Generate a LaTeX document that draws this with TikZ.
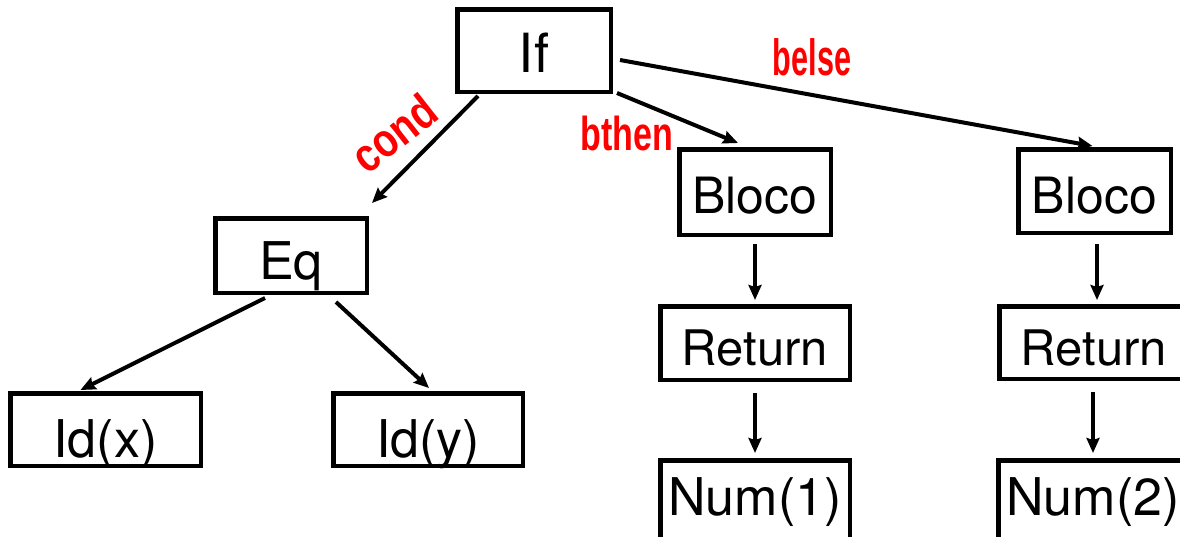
\documentclass[tikz,border=0pt]{standalone}
\usepackage{fontspec}
\setmainfont{TeX Gyre Heros}
\newfontfamily\handfont{Liberation Sans}
\usetikzlibrary{arrows.meta,calc}
\tikzset{
  box/.style={draw, line width=4.5pt, inner sep=0pt, anchor=base, font=\fontsize{50}{50}\selectfont},
  arr/.style={line width=4pt, -{Stealth[length=15pt,width=13pt,inset=2pt]}},
  lbl/.style={text=red, font=\handfont\bfseries\fontsize{34}{34}\selectfont, inner sep=0pt},
}
\begin{document}
\begin{tikzpicture}[x=1pt,y=-1pt]
\path[use as bounding box, clip] (0,0) rectangle (1180,536);
\fill[white] (0,0) rectangle (1180,536);
% nodes
\node[box, minimum width=153.5pt, text height=62.75pt, text depth=19.75pt, font=\fontsize{54}{54}\selectfont] (if) at (534,72) {If};
\node[box, minimum width=151.5pt, text height=60.75pt, text depth=13.75pt, font=\fontsize{52}{52}\selectfont] (eq) at (291,279) {Eq};
\node[box, minimum width=190.5pt, text height=63.75pt, text depth=8.75pt, font=\fontsize{52}{52}\selectfont] (idx) at (105.5,457) {Id(x)};
\node[box, minimum width=189.5pt, text height=63.75pt, text depth=8.75pt, font=\fontsize{52}{52}\selectfont] (idy) at (428,457) {Id(y)};
\node[box, minimum width=151.5pt, text height=63.75pt, text depth=21.75pt] (b1) at (755,213) {Bloco};
\node[box, minimum width=152.5pt, text height=63.75pt, text depth=19.75pt] (b2) at (1094.5,213) {Bloco};
\node[box, minimum width=189.5pt, text height=58.75pt, text depth=14.75pt, font=\fontsize{49}{49}\selectfont] (r1) at (755,365) {Return};
\node[box, minimum width=189.5pt, text height=58.75pt, text depth=13.75pt, font=\fontsize{49}{49}\selectfont] (r2) at (1094,365) {Return};
\node[box, minimum width=189.5pt, text height=54.75pt, text depth=40pt, font=\fontsize{52}{52}\selectfont] (n1) at (755,515) {Num(1)};
\node[box, minimum width=189.5pt, text height=54.75pt, text depth=40pt, font=\fontsize{52}{52}\selectfont] (n2) at (1093,515) {Num(2)};
% connectors
\draw[arr] ($(if.south west)+(23,2)$) -- ($(eq.north east)+(3,-13)$);
\draw[arr] ($(if.south east)+(4,-1)$) -- ($(b1.north)+(-17,-4)$);
\draw[arr] ($(if.east)+(7,9.5)$) -- ($(b2.north)+(-2,-1)$);
\draw[arr] ($(eq.south)+(-26,3)$) -- ($(idx.north)+(-25,-1)$);
\draw[arr] ($(eq.south)+(45,7)$) -- ($(idy.north)+(1,-3)$);
\draw[arr] ($(b1.south)+(0,7)$) -- ($(r1.north)+(0,-4)$);
\draw[arr] ($(r1.south)+(0,11)$) -- ($(n1.north)+(0,-5)$);
\draw[arr] ($(b2.south)+(2.5,9)$) -- ($(r2.north)+(3,-4)$);
\draw[arr] ($(r2.south)+(-1,11)$) -- ($(n2.north)+(0,-5)$);
% handwritten labels
\node[lbl, rotate=38] (lcond) at (394,133) {\scalebox{1.15}[1.4]{cond}};
\node[lbl] (lthen) at (627,133) {\scalebox{1.0}[1.4]{bthen}};
\node[lbl] (lelse) at (812,57) {\scalebox{0.9}[1.5]{belse}};
\end{tikzpicture}
\end{document}
